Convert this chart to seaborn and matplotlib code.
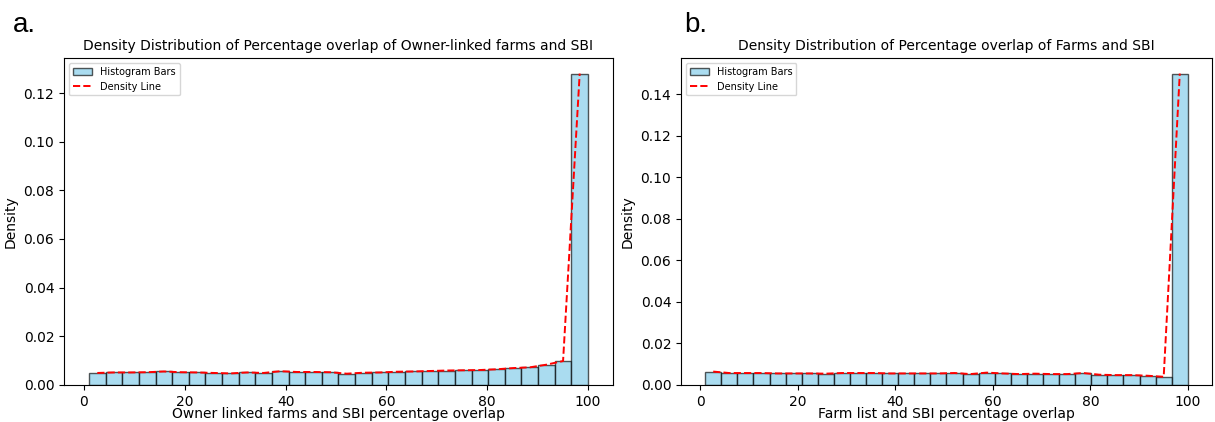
import matplotlib
matplotlib.use('Agg')
import matplotlib.pyplot as plt
import numpy as np
import seaborn as sns

# bins: 30 equal bins between 1 and 100 percent overlap
bin_start = 1
bin_end = 100
n_bins = 30

# density per bin
owner_density = [0.0049, 0.0051, 0.0051, 0.0052, 0.0055, 0.0052, 0.0051, 0.0049, 0.0047, 0.0051,
                 0.0049, 0.0056, 0.0053, 0.0053, 0.0052, 0.0046, 0.0050, 0.0051, 0.0054, 0.0055,
                 0.0057, 0.0059, 0.0060, 0.0061, 0.0064, 0.0069, 0.0072, 0.0083, 0.0098, 0.1280]
farm_density = [0.0064, 0.0057, 0.0057, 0.0057, 0.0055, 0.0055, 0.0055, 0.0054, 0.0057, 0.0057,
                0.0057, 0.0055, 0.0055, 0.0055, 0.0055, 0.0057, 0.0052, 0.0059, 0.0055, 0.0052,
                0.0054, 0.0052, 0.0052, 0.0057, 0.0049, 0.0047, 0.0047, 0.0044, 0.0039, 0.1500]

titles = ['Density Distribution of Percentage overlap of Owner-linked farms and SBI',
          'Density Distribution of Percentage overlap of Farms and SBI']
xlabels = ['Owner linked farms and SBI percentage overlap',
           'Farm list and SBI percentage overlap']
panel_tags = ['a.', 'b.']

edges = np.linspace(bin_start, bin_end, n_bins + 1)
centers = (edges[:-1] + edges[1:]) / 2

fig = plt.figure(figsize=(12.15, 4.22), dpi=100)
ax1 = fig.add_axes([0.0527, 0.088, 0.4518, 0.7746])
ax2 = fig.add_axes([0.5605, 0.088, 0.4370, 0.7746])

for ax, dens, title, xlab in zip([ax1, ax2], [owner_density, farm_density], titles, xlabels):
    sns.histplot(x=list(centers), weights=dens, bins=list(edges), stat='count', color='skyblue',
                 alpha=0.7, edgecolor=(0, 0, 0, 0.65), linewidth=1, label='Histogram Bars', ax=ax)
    sns.lineplot(x=list(centers), y=dens, color='red', linestyle='--', linewidth=1.4,
                 label='Density Line', ax=ax)
    ax.set_title(title, fontsize=10)
    ax.set_xlabel(xlab, fontsize=10, labelpad=-1)
    ax.set_ylabel('Density', fontsize=10)
    ax.tick_params(labelsize=10)
    h, l = ax.get_legend_handles_labels()
    order = [l.index('Histogram Bars'), l.index('Density Line')]
    ax.legend([h[i] for i in order], [l[i] for i in order], loc='upper left', fontsize=7)

fig.text(0.011, 0.925, panel_tags[0], fontsize=20, family='Liberation Sans')
fig.text(0.563, 0.925, panel_tags[1], fontsize=20, family='Liberation Sans')

fig.savefig('out.png', dpi=100)
